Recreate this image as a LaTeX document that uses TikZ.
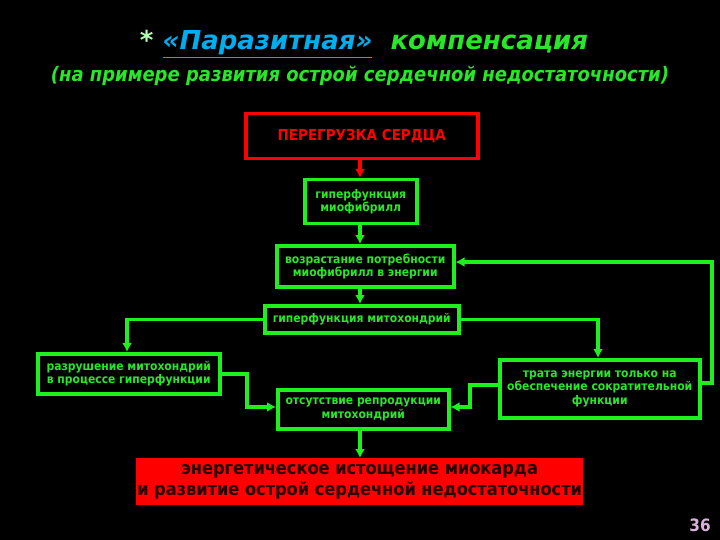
\documentclass[tikz,border=0pt]{standalone}
\usepackage{fontspec}
\setmainfont{DejaVu Sans Condensed}
\newfontfamily\wide{DejaVu Sans}
\usetikzlibrary{arrows.meta}
\definecolor{tg}{RGB}{40,230,40}
\definecolor{bg}{RGB}{30,240,30}
\begin{document}
\begin{tikzpicture}[x=1pt,y=-1pt,
  gbox/.style={draw=bg,line width=3.5pt,fill=black,text=tg,font=\fontsize{12}{13.5}\selectfont\bfseries,align=center,inner sep=0pt,anchor=north west},
  ar/.style={draw=bg,line width=3.5pt,-{Latex[length=9pt,width=10pt]}},
  ]
\fill[black] (0,0) rectangle (720,540);
\useasboundingbox (0,0) rectangle (720,540);
\node[anchor=center,font=\wide\fontsize{26}{28}\selectfont\bfseries\itshape] (t1) at (364,44)
 {\textcolor{green!30!white}{*} \textcolor{cyan}{\underline{«Паразитная»}}\ \ \textcolor{tg}{компенсация}};
\node[anchor=center,text=tg,font=\fontsize{20}{22}\selectfont\bfseries\itshape] (t2) at (360,76)
 {(на примере развития острой сердечной недостаточности)};
\node[gbox,draw=red,text=red,font=\fontsize{15}{17}\selectfont\bfseries,minimum width=232pt,minimum height=45pt] (a) at (244,112) {ПЕРЕГРУЗКА СЕРДЦА};
\node[gbox,minimum width=112pt,minimum height=44pt] (b) at (303,178) {гиперфункция\\миофибрилл};
\node[gbox,minimum width=177pt,minimum height=41pt] (c) at (275,244) {возрастание потребности\\миофибрилл в энергии};
\node[gbox,minimum width=194pt,minimum height=27pt] (d) at (263,304) {гиперфункция митохондрий};
\node[gbox,minimum width=182pt,minimum height=40pt] (e) at (36,352) {разрушение митохондрий\\в процессе гиперфункции};
\node[gbox,minimum width=171pt,minimum height=39pt] (f) at (276,388) {отсутствие репродукции\\митохондрий};
\node[gbox,minimum width=200pt,minimum height=58pt] (g) at (498,358) {трата энергии только на\\обеспечение сократительной\\функции};
\node[anchor=north west,fill=red,text=black!85!red,font=\fontsize{18}{21}\selectfont\bfseries,align=center,minimum width=447pt,minimum height=47pt,inner sep=0pt] (h) at (136,458) {энергетическое истощение миокарда\\и развитие острой сердечной недостаточности};
\node[text=violet!30!white,font=\fontsize{17}{18}\selectfont\bfseries] (n) at (700,525) {36};
\draw[ar,draw=red] (a.south -| 360,0) -- (b.north -| 360,0);
\draw[ar] (b.south -| 360,0) -- (c.north -| 360,0);
\draw[ar] (c.south -| 360,0) -- (d.north -| 360,0);
\draw[ar] (d.west) -| (e.north -| 127,0);
\draw[ar] (d.east) -| (g.north -| 598,0);
\draw[ar] (e.east) -| (247,407) -- (f.west |- 0,407);
\draw[ar] (g.west |- 0,385) -| (470,407) -- (f.east |- 0,407);
\draw[ar] (g.east |- 0,383) -| (712,262) -- (c.east |- 0,262);
\draw[ar] (f.south -| 360,0) -- (h.north -| 360,0);
\end{tikzpicture}
\end{document}
